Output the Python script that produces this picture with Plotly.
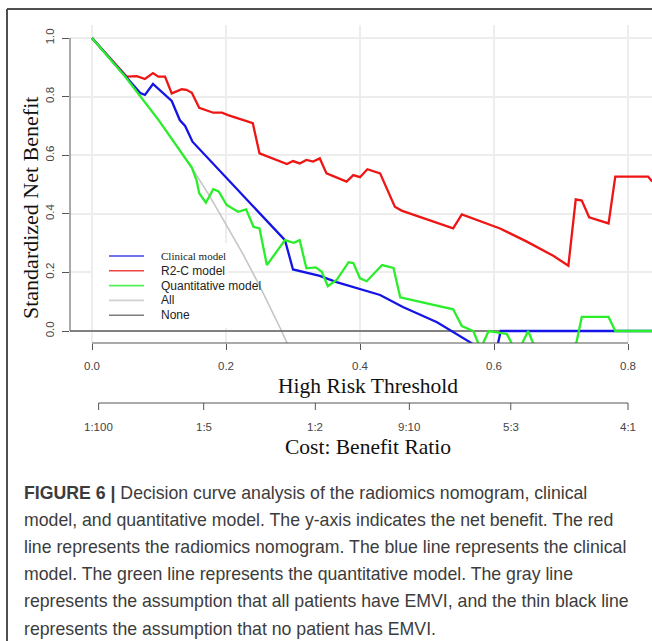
import plotly.graph_objects as go

# ---- decision curve data: threshold probability vs standardized net benefit ----
thr_all = [0.0, 0.05, 0.10, 0.15, 0.175, 0.20, 0.225, 0.25, 0.27, 0.283, 0.30]
nb_all = [1.0, 0.867, 0.718, 0.553, 0.463, 0.366, 0.264, 0.155, 0.063, 0.0, -0.086]

thr_r2c = [0.0, 0.052, 0.067, 0.079, 0.091, 0.099, 0.109, 0.119, 0.134, 0.141,
           0.149, 0.160, 0.181, 0.194, 0.203, 0.240, 0.250, 0.261, 0.291, 0.300,
           0.310, 0.320, 0.330, 0.340, 0.350, 0.380, 0.390, 0.400, 0.411, 0.430,
           0.452, 0.462, 0.539, 0.552, 0.609, 0.649, 0.689, 0.711, 0.722, 0.731,
           0.742, 0.771, 0.781, 0.830, 0.836]
nb_r2c = [1.0, 0.868, 0.870, 0.860, 0.880, 0.868, 0.868, 0.811, 0.825, 0.823,
          0.813, 0.762, 0.745, 0.745, 0.737, 0.709, 0.606, 0.597, 0.570, 0.580,
          0.572, 0.584, 0.578, 0.589, 0.538, 0.510, 0.532, 0.525, 0.552, 0.538,
          0.424, 0.411, 0.350, 0.398, 0.350, 0.305, 0.256, 0.223, 0.449, 0.445,
          0.388, 0.367, 0.527, 0.527, 0.510]

thr_clin = [0.0, 0.072, 0.079, 0.091, 0.119, 0.131, 0.139, 0.150, 0.288, 0.300,
            0.340, 0.365, 0.430, 0.464, 0.515, 0.567, 0.585, 0.606, 0.610, 0.840]
nb_clin = [1.0, 0.812, 0.806, 0.843, 0.785, 0.720, 0.700, 0.646, 0.310, 0.210,
           0.188, 0.167, 0.123, 0.082, 0.030, -0.042, -0.090, -0.042, 0.0, 0.0]

thr_quant = [0.0, 0.05, 0.10, 0.149, 0.156, 0.160, 0.170, 0.181, 0.189, 0.201,
             0.218, 0.230, 0.241, 0.250, 0.261, 0.288, 0.301, 0.310, 0.320, 0.334,
             0.343, 0.352, 0.365, 0.383, 0.390, 0.400, 0.410, 0.433, 0.450, 0.460,
             0.539, 0.552, 0.569, 0.580, 0.592, 0.604, 0.619, 0.626, 0.634, 0.651,
             0.658, 0.690, 0.723, 0.731, 0.771, 0.781, 0.840]
nb_quant = [1.0, 0.867, 0.718, 0.558, 0.515, 0.470, 0.438, 0.484, 0.476, 0.430,
            0.407, 0.415, 0.356, 0.350, 0.225, 0.310, 0.301, 0.310, 0.214, 0.217,
            0.202, 0.153, 0.174, 0.235, 0.232, 0.180, 0.170, 0.225, 0.215, 0.115,
            0.074, 0.017, 0.0, -0.060, 0.0, -0.005, -0.010, -0.040, -0.080, 0.0,
            -0.040, -0.090, -0.040, 0.048, 0.048, 0.0, 0.0]

none_nb = 0.0

# ---- axis ticks ----
x_ticks = [0.0, 0.2, 0.4, 0.6, 0.8]
x_ticktext = ["0.0", "0.2", "0.4", "0.6", "0.8"]
y_ticks = [0.0, 0.2, 0.4, 0.6, 0.8, 1.0]
y_ticktext = ["0.0", "0.2", "0.4", "0.6", "0.8", "1.0"]
cb_cost = [1, 1, 1, 9, 5, 4]
cb_benefit = [100, 5, 2, 10, 3, 1]
cb_labels = ["1:100", "1:5", "1:2", "9:10", "5:3", "4:1"]
cb_thr = [c / (c + b) for c, b in zip(cb_cost, cb_benefit)]

caption_lines = [
    "<b>FIGURE 6 |</b> Decision curve analysis of the radiomics nomogram, clinical",
    "model, and quantitative model. The y-axis indicates the net benefit. The red",
    "line represents the radiomics nomogram. The blue line represents the clinical",
    "model. The green line represents the quantitative model. The gray line",
    "represents the assumption that all patients have EMVI, and the thin black line",
    "represents the assumption that no patient has EMVI.",
]

# ---- styling ----
W, H = 652, 641
RED = "#ee1515"
BLUE = "#1414e6"
GREEN = "#2aee2a"
GRAY_ALL = "#c6c6c6"
NONE_C = "#5c5c5c"
AXIS_C = "#555555"
GRID_C = "#ededed"
SANS = "Liberation Sans, Arial, sans-serif"
SERIF = "Liberation Serif, Times New Roman, serif"


def fx(p):
    return p / W


def fy(p):
    return 1 - p / H


x_range = [(70 - 92) / 670, (652 - 92) / 670]
y_range = [(331 - 343) / 293, (331 - 25) / 293]

fig = go.Figure()
curves = [
    ("All", thr_all, nb_all, GRAY_ALL, 1.6),
    ("None", x_range, [none_nb, none_nb], NONE_C, 1.5),
    ("R2-C model", thr_r2c, nb_r2c, RED, 2.3),
    ("Clinical model", thr_clin, nb_clin, BLUE, 2.3),
    ("Quantitative model", thr_quant, nb_quant, GREEN, 2.3),
]
for name, xs, ys, col, w in curves:
    fig.add_trace(go.Scatter(x=xs, y=ys, mode="lines", name=name,
                             line=dict(color=col, width=w), hoverinfo="skip"))

tickfont = dict(family=SANS, size=11.5, color="#444444")
fig.update_layout(
    width=W, height=H,
    margin=dict(l=0, r=0, t=0, b=0),
    paper_bgcolor="white", plot_bgcolor="white",
    showlegend=False,
    xaxis=dict(domain=[fx(70), 1], range=x_range,
               tickvals=x_ticks, ticktext=x_ticktext, ticks="outside", ticklen=6,
               tickwidth=1, tickcolor=AXIS_C, ticklabelstandoff=6, tickfont=tickfont,
               showline=False, zeroline=False, showgrid=True, gridcolor=GRID_C,
               gridwidth=1.5),
    yaxis=dict(domain=[fy(343), fy(25)], range=y_range,
               tickvals=y_ticks, ticktext=y_ticktext, ticks="outside", ticklen=7,
               tickwidth=1, tickcolor=AXIS_C, tickangle=-90, ticklabelstandoff=3,
               tickfont=tickfont, showline=False, zeroline=False, showgrid=True,
               gridcolor=GRID_C, gridwidth=1.5),
)

shapes = []
annotations = []

# axis lines spanning the tick range (base-graphics style)
shapes.append(dict(type="line", xref="paper", yref="y", x0=fx(70), x1=fx(70),
                   y0=y_ticks[0], y1=y_ticks[-1], line=dict(color=AXIS_C, width=1)))
shapes.append(dict(type="line", xref="x", yref="paper", x0=x_ticks[0], x1=x_ticks[-1],
                   y0=fy(343), y1=fy(343), line=dict(color=AXIS_C, width=1)))

# cost:benefit scale under the threshold axis
cb_y = fy(403)
shapes.append(dict(type="line", xref="x", yref="paper", x0=min(cb_thr), x1=max(cb_thr),
                   y0=cb_y, y1=cb_y, line=dict(color=AXIS_C, width=1)))
for t, lab in zip(cb_thr, cb_labels):
    shapes.append(dict(type="line", xref="x", yref="paper", x0=t, x1=t,
                       y0=cb_y, y1=fy(410), line=dict(color=AXIS_C, width=1)))
    annotations.append(dict(x=t, y=fy(427), xref="x", yref="paper", text=lab,
                            showarrow=False, xanchor="center", yanchor="middle",
                            font=tickfont))

# axis titles
title_font = dict(family=SERIF, size=21.5, color="#111111")
annotations.append(dict(x=fx(368), y=fy(386), xref="paper", yref="paper",
                        text="High Risk Threshold", showarrow=False,
                        xanchor="center", yanchor="middle", font=title_font))
annotations.append(dict(x=fx(368), y=fy(447), xref="paper", yref="paper",
                        text="Cost: Benefit Ratio", showarrow=False,
                        xanchor="center", yanchor="middle", font=title_font))
annotations.append(dict(x=fx(30), y=fy(208), xref="paper", yref="paper",
                        text="Standardized Net Benefit", showarrow=False, textangle=-90,
                        xanchor="center", yanchor="middle",
                        font=dict(family=SERIF, size=22, color="#111111")))

# legend panel
shapes.append(dict(type="rect", xref="paper", yref="paper",
                   x0=fx(93), x1=fx(228), y0=fy(328), y1=fy(243),
                   fillcolor="white", line=dict(width=0), layer="above"))
legend_items = [
    ("Clinical model", BLUE, SERIF, 11),
    ("R2-C model", RED, SANS, 12),
    ("Quantitative model", GREEN, SANS, 12),
    ("All", GRAY_ALL, SANS, 12),
    ("None", NONE_C, SANS, 12),
]
for i, (name, col, fam, size) in enumerate(legend_items):
    ly = fy(256 + i * 14.8)
    shapes.append(dict(type="line", xref="paper", yref="paper", x0=fx(109), x1=fx(144),
                       y0=ly, y1=ly, opacity=0.8, line=dict(color=col, width=1.6)))
    annotations.append(dict(x=fx(159), y=ly, xref="paper", yref="paper", text=name,
                            showarrow=False, xanchor="left", yanchor="middle",
                            font=dict(family=fam, size=size, color="#222222")))

# frame around the figure panel
FRAME_C = "#4f4f4f"
shapes.append(dict(type="line", xref="paper", yref="paper", x0=fx(7), x1=1.0,
                   y0=fy(9), y1=fy(9), line=dict(color=FRAME_C, width=2)))
shapes.append(dict(type="line", xref="paper", yref="paper", x0=fx(7), x1=fx(7),
                   y0=fy(9), y1=0.0, line=dict(color=FRAME_C, width=2)))

# caption
cap_font = dict(family=SANS, size=17.7, color="#3c3c3c")
for i, line in enumerate(caption_lines):
    annotations.append(dict(x=fx(22), y=fy(493 + i * 27.1), xref="paper", yref="paper",
                            text=line, showarrow=False, xanchor="left",
                            yanchor="middle", align="left", font=cap_font))

fig.update_layout(shapes=shapes, annotations=annotations)
fig.write_html("out.html")
